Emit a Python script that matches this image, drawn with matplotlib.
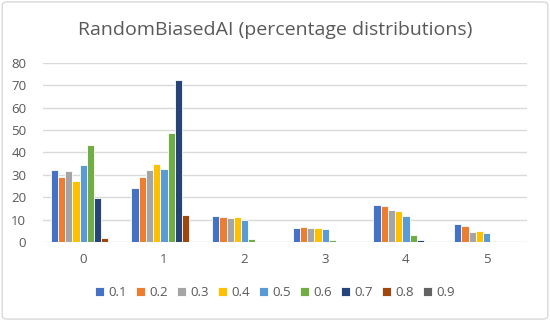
import numpy as np
import matplotlib.pyplot as plt
from matplotlib.patches import FancyBboxPatch

# categories and series
categories = ["0", "1", "2", "3", "4", "5"]
series_names = ["0.1", "0.2", "0.3", "0.4", "0.5", "0.6", "0.7", "0.8", "0.9"]
s01 = [32.3, 24.3, 11.8, 6.1, 16.7, 8.2]
s02 = [29.2, 29.2, 11.3, 6.8, 16.2, 7.0]
s03 = [31.7, 32.0, 10.9, 6.4, 14.3, 4.3]
s04 = [27.4, 34.8, 11.3, 6.4, 14.0, 4.9]
s05 = [34.2, 32.7, 9.8, 5.8, 11.6, 4.2]
s06 = [43.5, 48.8, 1.5, 1.0, 3.3, 0.6]
s07 = [19.8, 72.3, 0.0, 0.0, 0.9, 0.0]
s08 = [1.8, 12.2, 0.0, 0.0, 0.0, 0.0]
s09 = [0.0, 0.0, 0.0, 0.0, 0.0, 0.0]
values = [s01, s02, s03, s04, s05, s06, s07, s08, s09]
colors = ["#4472C4", "#ED7D31", "#A5A5A5", "#FFC000", "#5B9BD5",
          "#70AD47", "#264478", "#9E480E", "#636363"]

plt.rcParams['font.family'] = ['Open Sans', 'DejaVu Sans']

fig = plt.figure(figsize=(5.5, 3.21), dpi=100)
ax = fig.add_axes([0.078, 0.246, 0.88, 0.558])

x = np.arange(len(categories))
n = len(values)
w = 1.0 / (n + 2.19)
for i, (vals, c, name) in enumerate(zip(values, colors, series_names)):
    offs = (i - (n - 1) / 2) * w
    ax.bar(x + offs, vals, width=w, color=c, edgecolor="white",
           linewidth=0.6, label=name, zorder=3)

ax.set_xlim(-0.5, len(categories) - 0.5)
ax.set_ylim(0, 80)
ax.set_yticks(range(0, 81, 10))
ax.set_xticks(x)
ax.set_xticklabels(categories)
ax.grid(axis="y", color="#D9D9D9", linewidth=1, zorder=0)
for s in ax.spines.values():
    s.set_visible(False)
ax.tick_params(length=0, labelsize=9.5, colors="#595959")
ax.tick_params(axis="y", pad=12)
ax.tick_params(axis="x", pad=8)

fig.text(0.5, 0.905, "RandomBiasedAI (percentage distributions)",
         ha="center", va="center", fontsize=14, color="#595959")

leg = fig.legend(loc="center", bbox_to_anchor=(0.5, 0.088), ncol=9,
                 frameon=False, fontsize=9.5, handlelength=0.7,
                 handleheight=0.7, handletextpad=0.3, columnspacing=0.7)
for t in leg.get_texts():
    t.set_color("#595959")

frame = FancyBboxPatch((0.004, 0.006), 0.992, 0.988,
                       boxstyle="round,pad=0,rounding_size=0.01",
                       transform=fig.transFigure, fill=False,
                       edgecolor="#D9D9D9", linewidth=1)
fig.patches.append(frame)

fig.savefig("out.png", dpi=100)
